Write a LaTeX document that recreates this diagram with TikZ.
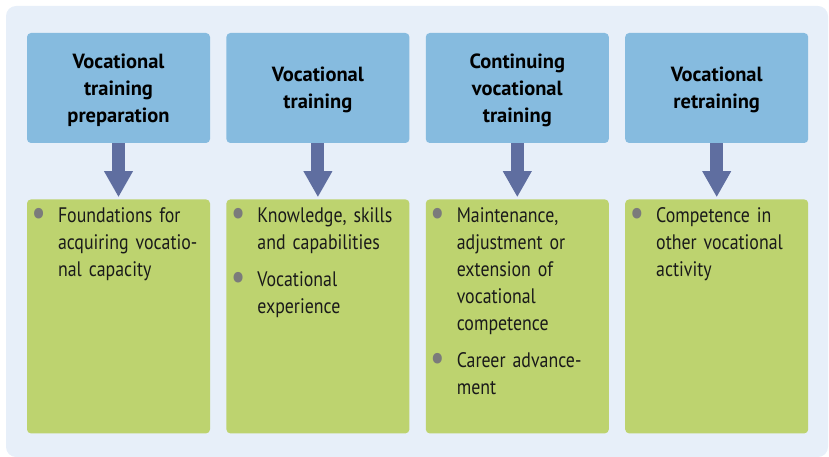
\documentclass[tikz,border=0pt]{standalone}
\usepackage{fontspec}
\setmainfont{PT Sans}[FakeStretch=0.85]
\newfontfamily\headfont{PT Sans}
\usepackage{tikz}
\usetikzlibrary{positioning,arrows.meta}
\definecolor{panelblue}{HTML}{E7EFF9}
\definecolor{headblue}{HTML}{86BBDF}
\definecolor{bodygreen}{HTML}{BDD36F}
\definecolor{arrowblue}{HTML}{5F6EA0}
\definecolor{dotgray}{HTML}{7B7B7B}
\definecolor{inkblack}{HTML}{1A1A1A}
\tikzstyle{phase} = [rectangle, rounded corners=4pt, minimum width=183pt, minimum height=110pt, text centered, align=center, text depth=-1pt, fill=headblue, font=\headfont\fontsize{20.5}{27}\selectfont\bfseries, text=black, inner sep=0pt]
\tikzstyle{outcome} = [rectangle, rounded corners=4pt, minimum width=183pt, minimum height=234pt, fill=bodygreen, inner sep=0pt]
\tikzstyle{items} = [anchor=base west, text width=150pt, align=left, inner sep=0pt, font=\fontsize{21}{27}\selectfont, text=inkblack]
\tikzstyle{arrow} = [line width=13pt, draw=arrowblue, -{Triangle[width=27pt,length=26pt]}, shorten >=2pt]
\newcommand{\vitem}[1]{\leavevmode\llap{\textcolor{dotgray}{\fontsize{38}{27}\selectfont\raisebox{-3pt}{•}}\hspace{12pt}}#1\par}
\newcommand{\vgap}{\vspace{10pt}}

\begin{document}
\begin{tikzpicture}[x=1pt,y=-1pt]
\useasboundingbox (0,0) rectangle (829,457);
\fill [panelblue, rounded corners=10pt] (6,6) rectangle (828,457);

\node (prep) [phase] at (118.5,88) {Vocational\\training\\preparation};
\node (train) [phase, right=16pt of prep] {Vocational\\training};
\node (cont) [phase, right=16pt of train] {Continuing\\vocational\\training};
\node (retrain) [phase, right=16pt of cont] {Vocational\\retraining};

\node (prepout) [outcome, below=56pt of prep] {};
\node (trainout) [outcome, below=56pt of train] {};
\node (contout) [outcome, below=56pt of cont] {};
\node (retrainout) [outcome, below=56pt of retrain] {};

\draw [arrow] (prep) -- (prepout);
\draw [arrow] (train) -- (trainout);
\draw [arrow] (cont) -- (contout);
\draw [arrow] (retrain) -- (retrainout);

\node (preptext) [items] at ([xshift=31pt,yshift=-23pt]prepout.north west)
  {\vitem{Foundations for\\acquiring vocatio-\\nal capacity}};
\node (traintext) [items] at ([xshift=31pt,yshift=-23pt]trainout.north west)
  {\vitem{Knowledge, skills\\and capabilities}\vgap\vitem{Vocational\\experience}};
\node (conttext) [items] at ([xshift=31pt,yshift=-23pt]contout.north west)
  {\vitem{Maintenance,\\adjustment or\\extension of\\vocational\\competence}\vgap\vitem{Career advance-\\ment}};
\node (retraintext) [items] at ([xshift=31pt,yshift=-23pt]retrainout.north west)
  {\vitem{Competence in\\other vocational\\activity}};
\end{tikzpicture}
\end{document}
